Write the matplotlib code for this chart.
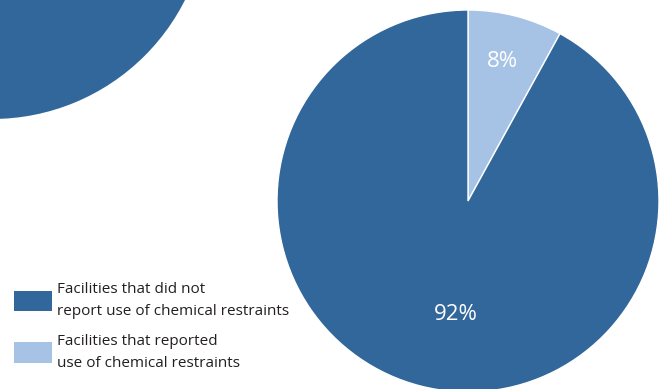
import matplotlib
matplotlib.use("Agg")
import matplotlib.pyplot as plt
from matplotlib.patches import Patch

plt.rcParams["font.family"] = ["Open Sans", "DejaVu Sans"]

# data
categories = ["Facilities that did not\nreport use of chemical restraints",
              "Facilities that reported\nuse of chemical restraints"]
shares = [92, 8]
pct_labels = ["92%", "8%"]

DARK = "#31679a"
LIGHT = "#a6c3e6"

W, H = 665, 389
fig = plt.figure(figsize=(W / 100, H / 100), dpi=100)
ax = fig.add_axes([0, 0, 1, 1])

# cropped neighbouring pie in the top-left corner
ax.pie([100], colors=[DARK], center=(-8, H + 97), radius=216,
       wedgeprops=dict(linewidth=0), frame=True)

# main pie: light slice starts at 12 o'clock, going clockwise
ax.pie([shares[1], shares[0]], colors=[LIGHT, DARK], startangle=90,
       counterclock=False, center=(468, H - 201), radius=191,
       wedgeprops=dict(edgecolor="white", linewidth=1), frame=True)
ax.set_xlim(0, W)
ax.set_ylim(0, H)
ax.set_aspect("equal")
ax.axis("off")

ax.text(502, H - 61, pct_labels[1], color="white", fontsize=16,
        ha="center", va="center")
ax.text(456, H - 315, pct_labels[0], color="white", fontsize=16,
        ha="center", va="center")

handles = [Patch(facecolor=DARK, edgecolor="none"),
           Patch(facecolor=LIGHT, edgecolor="none")]
leg = ax.legend(handles, categories, loc="upper left",
                bbox_to_anchor=(14 / W, 1 - 282 / H), frameon=False,
                fontsize=11, handlelength=2.5, handleheight=1.7,
                handletextpad=0.3, labelspacing=0.95, borderpad=0,
                borderaxespad=0, labelcolor="#231f20")
for t in leg.get_texts():
    t.set_linespacing(1.65)

fig.savefig("out.png", dpi=100)
